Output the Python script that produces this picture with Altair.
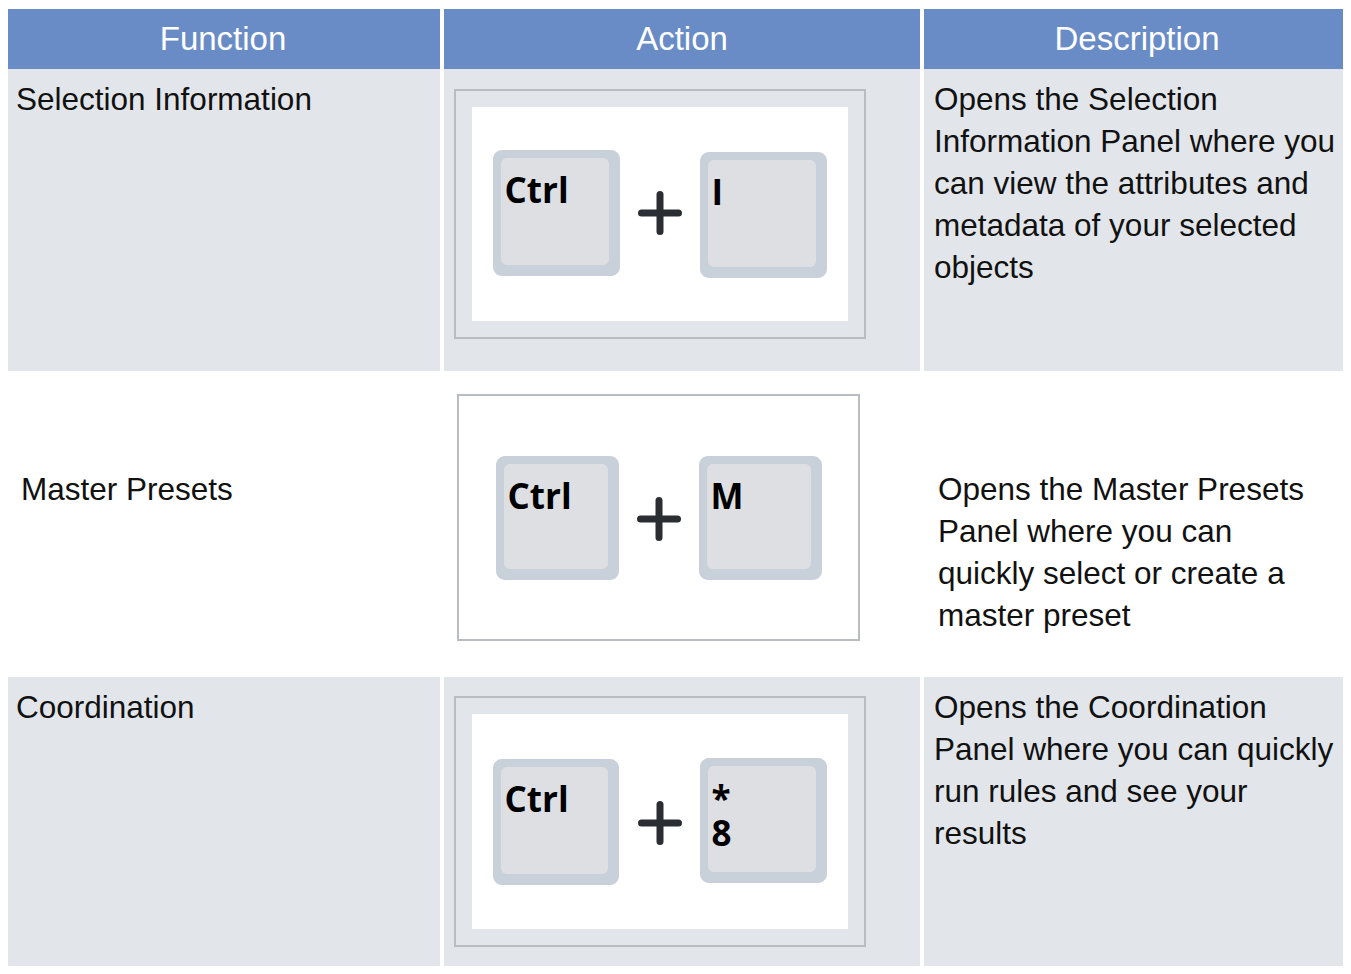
import altair as alt
import pandas as pd

# ---------------- content ----------------
HEADERS = ["Function", "Action", "Description"]
FUNCTIONS = ["Selection Information", "Master Presets", "Coordination"]
KEY_COMBOS = [
    ["Ctrl", "I"],
    ["Ctrl", "M"],
    ["Ctrl", "*\n8"],
]
DESCRIPTIONS = [
    ["Opens the Selection", "Information Panel where you", "can view the attributes and",
     "metadata of your selected", "objects"],
    ["Opens the Master Presets", "Panel where you can", "quickly select or create a",
     "master preset"],
    ["Opens the Coordination", "Panel where you can quickly", "run rules and see your",
     "results"],
]

# ---------------- layout (page pixels) ----------------
COL_EDGES = [(6, 440), (444, 920), (924, 1350)]
HEADER_BAND = (9, 69)
HEADER_BASELINE = 50
ROW_BANDS = [(69, 371), (371, 677), (677, 974)]
ROW_FILLS = ["#e2e6ea", "#ffffff", "#e2e6ea"]
HEADER_FILL = "#6a8cc6"
TEXT_BASELINE = [110, 500, 718]
FUNC_X = [16, 21, 16]
DESC_X = [934, 938, 934]
LINE_H = 42
FRAMES = [(455, 865, 90, 338), (458, 859, 395, 640), (455, 865, 697, 946)]
FRAME_INSET = [17, 0, 17]
KEY_BOXES = [
    [(493, 620, 150, 276), (700, 827, 152, 278)],
    [(496, 619, 456, 580), (699, 822, 456, 580)],
    [(493, 619, 759, 885), (700, 827, 758, 883)],
]
PLUS_CENTERS = [(660, 213), (659, 519), (660, 823)]
PLUS_ARM = 18.5
KEY_LABEL_DX = 11.5
KEY_LABEL_DY = 52.5
KEY_LINE_H = 35

# ---------------- build tables ----------------
cells = []
for (x0, x1) in COL_EDGES:
    cells.append(dict(x=x0, x2=x1, y=HEADER_BAND[0], y2=HEADER_BAND[1], fill=HEADER_FILL))
    for (y0, y1), f in zip(ROW_BANDS, ROW_FILLS):
        cells.append(dict(x=x0, x2=x1, y=y0, y2=y1, fill=f))
cells = pd.DataFrame(cells)

frames = []
inners = []
for i, (x0, x1, y0, y1) in enumerate(FRAMES):
    frames.append(dict(x=x0, x2=x1, y=y0, y2=y1, fill=ROW_FILLS[i] if FRAME_INSET[i] else "#ffffff"))
    if FRAME_INSET[i]:
        d = FRAME_INSET[i]
        inners.append(dict(x=x0 + d, x2=x1 - d, y=y0 + d, y2=y1 - d))
frames = pd.DataFrame(frames)
inners = pd.DataFrame(inners)

key_outer = []
key_inner = []
key_text = []
for r, boxes in enumerate(KEY_BOXES):
    for k, (x0, x1, y0, y1) in enumerate(boxes):
        key_outer.append(dict(x=x0, x2=x1, y=y0, y2=y1))
        key_inner.append(dict(x=x0 + 8, x2=x1 - 11, y=y0 + 8, y2=y1 - 11))
        key_text.append(dict(x=x0 + KEY_LABEL_DX, y=y0 + KEY_LABEL_DY, text=KEY_COMBOS[r][k]))
key_outer = pd.DataFrame(key_outer)
key_inner = pd.DataFrame(key_inner)
key_text = pd.DataFrame(key_text)

plus = []
for (cx, cy) in PLUS_CENTERS:
    plus.append(dict(x=cx - PLUS_ARM, x2=cx + PLUS_ARM, y=cy, y2=cy))
    plus.append(dict(x=cx, x2=cx, y=cy - PLUS_ARM, y2=cy + PLUS_ARM))
plus = pd.DataFrame(plus)

header_text = pd.DataFrame([
    dict(x=(a + b) / 2, y=HEADER_BASELINE, text=h) for (a, b), h in zip(COL_EDGES, HEADERS)
])

body_text = []
for r in range(3):
    body_text.append(dict(x=FUNC_X[r], y=TEXT_BASELINE[r], text=FUNCTIONS[r]))
    for j, line in enumerate(DESCRIPTIONS[r]):
        body_text.append(dict(x=DESC_X[r], y=TEXT_BASELINE[r] + j * LINE_H, text=line))
body_text = pd.DataFrame(body_text)

# ---------------- chart ----------------
W, H = 1335, 958
XS = alt.Scale(domain=[8, 8 + W], nice=False, zero=False)
YS = alt.Scale(domain=[8, 8 + H], nice=False, zero=False, reverse=True)


def rect_enc(extra=None):
    enc = dict(
        x=alt.X("x:Q", scale=XS, axis=None),
        x2="x2:Q",
        y=alt.Y("y:Q", scale=YS, axis=None),
        y2="y2:Q",
    )
    if extra:
        enc.update(extra)
    return enc


cell_layer = alt.Chart(cells).mark_rect(strokeWidth=0, clip=True).encode(
    **rect_enc(dict(color=alt.Color("fill:N", scale=None)))
)
frame_layer = alt.Chart(frames).mark_rect(stroke="#b9bdc1", strokeWidth=2).encode(
    **rect_enc(dict(color=alt.Color("fill:N", scale=None)))
)
inner_layer = alt.Chart(inners).mark_rect(fill="#ffffff", strokeWidth=0).encode(**rect_enc())
key_outer_layer = alt.Chart(key_outer).mark_rect(fill="#c8d0da", cornerRadius=9).encode(**rect_enc())
key_inner_layer = alt.Chart(key_inner).mark_rect(fill="#dddfe2", cornerRadius=6).encode(**rect_enc())
plus_layer = alt.Chart(plus).mark_rule(color="#2a2e33", strokeWidth=7, strokeCap="round").encode(**rect_enc())

header_layer = alt.Chart(header_text).mark_text(
    align="center", baseline="alphabetic", font="Liberation Sans", fontSize=33, color="#ffffff"
).encode(x=alt.X("x:Q", scale=XS, axis=None), y=alt.Y("y:Q", scale=YS, axis=None), text="text:N")

body_layer = alt.Chart(body_text).mark_text(
    align="left", baseline="alphabetic", font="Liberation Sans", fontSize=31.5, color="#111111"
).encode(x=alt.X("x:Q", scale=XS, axis=None), y=alt.Y("y:Q", scale=YS, axis=None), text="text:N")

key_text_layer = alt.Chart(key_text).mark_text(
    align="left", baseline="alphabetic", font="Open Sans", fontWeight="bold", fontSize=35,
    color="#000000", lineBreak="\n", lineHeight=KEY_LINE_H
).encode(x=alt.X("x:Q", scale=XS, axis=None), y=alt.Y("y:Q", scale=YS, axis=None), text="text:N")

chart = alt.layer(
    cell_layer, frame_layer, inner_layer, key_outer_layer, key_inner_layer,
    plus_layer, header_layer, body_layer, key_text_layer,
).properties(width=W, height=H, padding=0, background="#ffffff").configure_view(stroke=None)

chart.save("out.html", embed_options={"renderer": "svg", "actions": False})
